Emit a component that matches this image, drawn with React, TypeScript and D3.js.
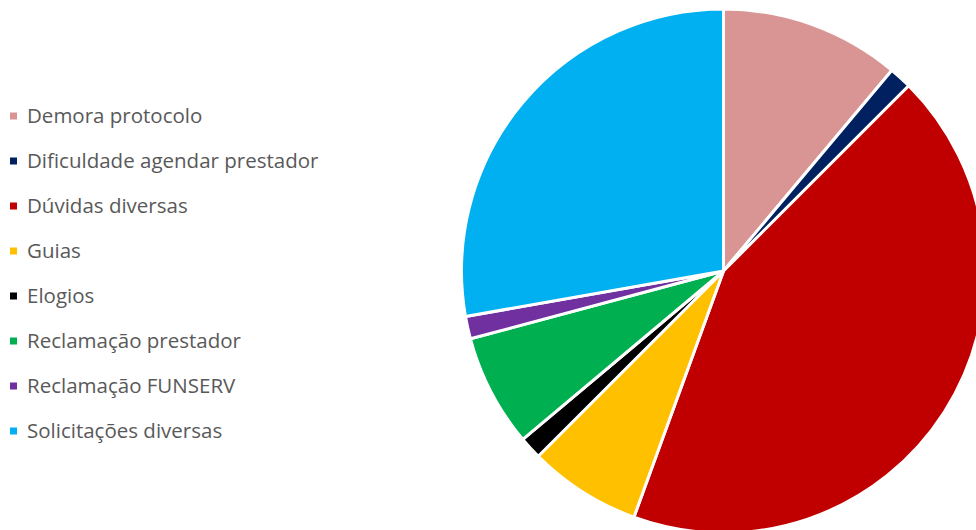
import React from "react";
import * as d3 from "d3";

const categories = [
  "Demora protocolo",
  "Dificuldade agendar prestador",
  "Dúvidas diversas",
  "Guias",
  "Elogios",
  "Reclamação prestador",
  "Reclamação FUNSERV",
  "Solicitações diversas",
];
const values = [8, 1, 31, 5, 1, 5, 1, 20];
const colors = ["#D99594", "#002060", "#C00000", "#FFC000", "#000000", "#00B050", "#7030A0", "#00B0F0"];

const W = 976;
const H = 530;
const CX = 723.5;
const CY = 271;
const R = 262;

export default function App() {
  const data = categories.map((c, i) => ({ c, v: values[i], col: colors[i] }));
  const arcs = d3.pie<any>().sort(null).value((d: any) => d.v)(data);
  const arcGen = d3.arc<any>().innerRadius(0).outerRadius(R);
  const legendY = d3.scalePoint<string>().domain(categories).range([116, 431]);
  return (
    <div style={{ position: "absolute", left: 0, top: 0 }}>
      <svg width={W} height={H} style={{ display: "block", background: "#fff" }}>
        <g transform={`translate(${CX},${CY})`}>
          {arcs.map((a, i) => (
            <path key={i} d={arcGen(a) as string} fill={a.data.col} stroke="#fff" strokeWidth={3} strokeLinejoin="round" />
          ))}
        </g>
        <g fontFamily="'Open Sans', sans-serif" fontSize={20.5} fill="#595959">
          {data.map((d, i) => {
            const y = legendY(d.c) as number;
            return (
              <g key={i}>
                <rect x={10} y={y - 3.5} width={7} height={7} fill={d.col} />
                <text x={27} y={y + 7.3}>{d.c}</text>
              </g>
            );
          })}
        </g>
      </svg>
    </div>
  );
}
